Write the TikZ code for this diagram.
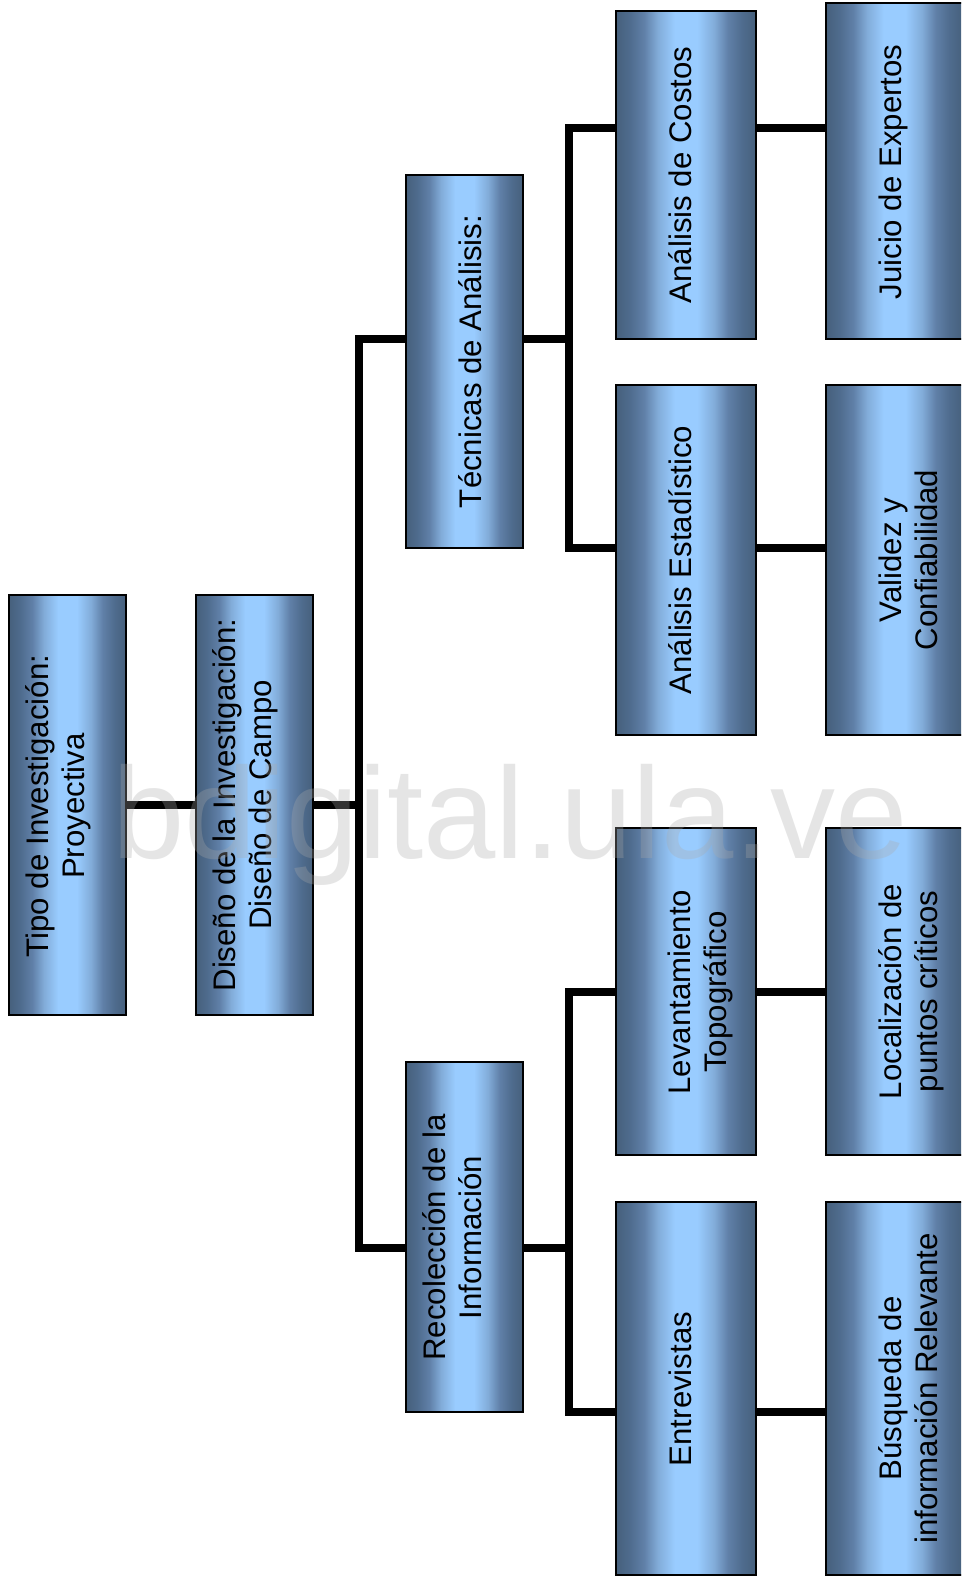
\documentclass[tikz,border=0pt]{standalone}
\usepackage{fontspec}
\setmainfont{Liberation Sans}
\definecolor{bedge}{HTML}{46607C}
\definecolor{bdark}{HTML}{4F6C8E}
\definecolor{bmid}{HTML}{6080A8}
\definecolor{blite}{HTML}{82ACD9}
\definecolor{bhigh}{HTML}{99CCFF}
\definecolor{wmark}{HTML}{AAAAAA}
\pgfdeclarehorizontalshading{barshade}{100bp}{color(0bp)=(bedge); color(25bp)=(bedge); color(30bp)=(bdark); color(35bp)=(bmid); color(40bp)=(blite); color(46bp)=(bhigh); color(54bp)=(bhigh); color(60bp)=(blite); color(65bp)=(bmid); color(70bp)=(bdark); color(75bp)=(bedge); color(100bp)=(bedge)}
\newcommand{\st}{\rule[-7bp]{0pt}{30bp}}
\tikzset{
  barbox/.style={draw=black,line width=1.5bp,shading=barshade,inner sep=0pt,outer sep=0pt},
  barlabel/.style={rotate=90,align=center,inner sep=0pt,outer sep=0pt,font=\fontsize{31.2bp}{36bp}\selectfont,text=black},
  link/.style={line width=8bp,draw=black,line join=miter}
}
\begin{document}
\begin{tikzpicture}[x=1bp,y=-1bp]
\clip (0,0) rectangle (961,1585);
\fill[white] (0,0) rectangle (961,1585);
% boxes
\node[barbox,minimum width=117bp,minimum height=420bp] (tipo) at (67.5,805) {};
\node[barbox,minimum width=117bp,minimum height=420bp] (dis) at (254.5,805) {};
\node[barbox,minimum width=117bp,minimum height=373bp] (tec) at (464.5,361.5) {};
\node[barbox,minimum width=117bp,minimum height=350bp] (rec) at (464.5,1237) {};
\node[barbox,minimum width=140bp,minimum height=328bp] (costos) at (686,175) {};
\node[barbox,minimum width=140bp,minimum height=350bp] (est) at (686,560) {};
\node[barbox,minimum width=140bp,minimum height=327bp] (lev) at (686,991.5) {};
\node[barbox,minimum width=140bp,minimum height=373bp] (ent) at (686,1388.5) {};
\node[barbox,minimum width=137bp,minimum height=336bp] (juicio) at (894.5,171) {};
\node[barbox,minimum width=137bp,minimum height=350bp] (val) at (894.5,560) {};
\node[barbox,minimum width=137bp,minimum height=327bp] (loc) at (894.5,991.5) {};
\node[barbox,minimum width=137bp,minimum height=373bp] (bus) at (894.5,1388.5) {};
% junctions
\coordinate (j0) at (359,805);
\coordinate (j1) at (359,339);
\coordinate (j2) at (359,1248);
\coordinate (k0) at (569,339);
\coordinate (k1) at (569,128);
\coordinate (k2) at (569,548);
\coordinate (m0) at (569,1248);
\coordinate (m1) at (569,992);
\coordinate (m2) at (569,1412);
% connectors
\draw[link] (tipo.east) -- (dis.west);
\draw[link] (dis.east) -- (j0);
\draw[link] (tec.west |- j1) -- (j1) -- (j2) -- (rec.west |- j2);
\draw[link] (tec.east |- k0) -- (k0);
\draw[link] (costos.west |- k1) -- (k1) -- (k2) -- (est.west |- k2);
\draw[link] (rec.east |- m0) -- (m0);
\draw[link] (lev.west |- m1) -- (m1) -- (m2) -- (ent.west |- m2);
\draw[link] (costos.east |- k1) -- (juicio.west |- k1);
\draw[link] (est.east |- k2) -- (val.west |- k2);
\draw[link] (lev.east |- m1) -- (loc.west |- m1);
\draw[link] (ent.east |- m2) -- (bus.west |- m2);
% labels
\node[barlabel] (ttipo) at (58,806) {\st Tipo de Investigación:\\\st Proyectiva};
\node[barlabel] (tdis) at (245,805) {\st Diseño de la Investigación:\\\st Diseño de Campo};
\node[barlabel] (ttec) at (473,361.5) {\st Técnicas de Análisis:};
\node[barlabel] (trec) at (455,1237.5) {\st Recolección de la\\\st Información};
\node[barlabel] (tcostos) at (683,175) {\st Análisis de Costos};
\node[barlabel] (test) at (683,560) {\st Análisis Estadístico};
\node[barlabel] (tlev) at (700.5,992) {\st Levantamiento\\\st Topográfico};
\node[barlabel] (tent) at (683,1389) {\st Entrevistas};
\node[barlabel] (tjuicio) at (893,172) {\st Juicio de Expertos};
\node[barlabel] (tval) at (911,560) {\st Validez y\\\st Confiabilidad};
\node[barlabel] (tloc) at (911,991.5) {\st Localización de\\\st puntos críticos};
\node[barlabel] (tbus) at (911,1388.5) {\st Búsqueda de\\\st información Relevante};
% watermark
\node[anchor=base west,inner sep=0pt,text=wmark,text opacity=.3,font=\fontsize{130bp}{130bp}\selectfont] (wm) at (112.5,858) {bdigital.ula.ve};
\end{tikzpicture}
\end{document}
